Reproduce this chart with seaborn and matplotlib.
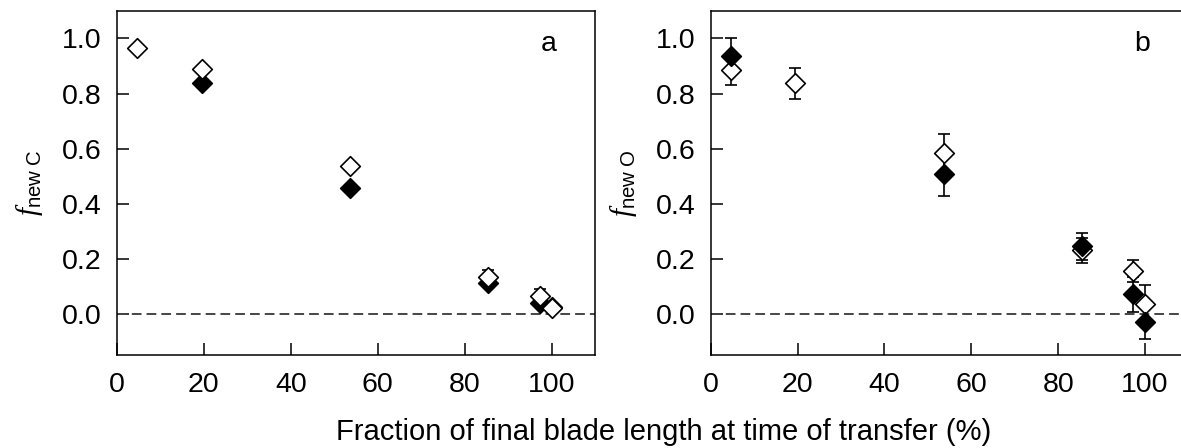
import numpy as np
import pandas as pd
import seaborn as sns
import matplotlib.pyplot as plt

# panel a: f new C
xa_open = [4.7, 19.5, 53.6, 85.4, 97.3, 100.0]
ya_open = [0.967, 0.889, 0.536, 0.135, 0.066, 0.019]
ea_open = [0.01, 0.01, 0.012, 0.025, 0.025, 0.01]
xa_fill = [19.5, 53.6, 85.4, 97.3, 100.0]
ya_fill = [0.84, 0.457, 0.11, 0.04, 0.025]
ea_fill = [0.01, 0.012, 0.01, 0.01, 0.01]

# panel b: f new O
xb_open = [4.7, 19.5, 53.6, 85.4, 97.3, 100.0]
yb_open = [0.885, 0.837, 0.583, 0.23, 0.155, 0.035]
eb_open = [0.053, 0.057, 0.07, 0.045, 0.04, 0.07]
xb_fill = [4.7, 53.6, 85.4, 97.3, 100.0]
yb_fill = [0.935, 0.509, 0.245, 0.07, -0.03]
eb_fill = [0.065, 0.08, 0.05, 0.063, 0.062]

xticks = [0, 20, 40, 60, 80, 100]
yticks = [0.0, 0.2, 0.4, 0.6, 0.8, 1.0]

sns.set_style('ticks')
plt.rcParams['font.family'] = ['Liberation Sans', 'DejaVu Sans']
plt.rcParams['mathtext.fontset'] = 'custom'
plt.rcParams['mathtext.it'] = 'Liberation Serif:italic'
plt.rcParams['mathtext.rm'] = 'Liberation Sans'
plt.rcParams['text.color'] = 'black'
plt.rcParams['axes.labelcolor'] = 'black'

fig = plt.figure(figsize=(11.81, 4.48), dpi=100)
ax_a = fig.add_axes([0.0991, 0.2076, 0.4047, 0.7679])
ax_b = fig.add_axes([0.6017, 0.2076, 0.4047, 0.7679])


def draw_panel(ax, x_open, y_open, e_open, x_fill, y_fill, e_fill, filled_top):
    ax.axhline(0, color='#454545', lw=1.4, ls=(0, (5, 2.6)), zorder=1)
    ax.errorbar(x_open, y_open, yerr=e_open, fmt='none', ecolor='black',
                elinewidth=1.2, capsize=4, capthick=1.2, zorder=2)
    ax.errorbar(x_fill, y_fill, yerr=e_fill, fmt='none', ecolor='black',
                elinewidth=1.2, capsize=4, capthick=1.2, zorder=2)
    z_open, z_fill = (3, 4) if filled_top else (4, 3)
    sns.scatterplot(x=x_open, y=y_open, ax=ax, marker='D', s=100,
                    facecolor='white', edgecolor='black', linewidth=1.2,
                    zorder=z_open, legend=False)
    sns.scatterplot(x=x_fill, y=y_fill, ax=ax, marker='D', s=100,
                    color='black', edgecolor='black', linewidth=1.2,
                    zorder=z_fill, legend=False)
    ax.set_xlim(0, 110)
    ax.set_ylim(-0.15, 1.1)
    ax.set_xticks(xticks)
    ax.set_yticks(yticks)
    ax.set_yticklabels([f'{t:.1f}' for t in yticks])
    ax.tick_params(direction='in', length=8.5, width=1.1, labelsize=20.5,
                   colors='black')
    ax.tick_params(axis='y', pad=11)
    ax.tick_params(axis='x', pad=12)
    for sp in ax.spines.values():
        sp.set_visible(True)
        sp.set_linewidth(1.1)
        sp.set_color('black')
    ax.set_xlabel('')


draw_panel(ax_a, xa_open, ya_open, ea_open, xa_fill, ya_fill, ea_fill, False)
draw_panel(ax_b, xb_open, yb_open, eb_open, xb_fill, yb_fill, eb_fill, True)

ax_a.set_ylabel(r'$\mathit{f}_{\mathrm{new\ C}}$', fontsize=21)
ax_b.set_ylabel(r'$\mathit{f}_{\mathrm{new\ O}}$', fontsize=21)
ax_a.yaxis.set_label_coords(-0.15, 0.5)
ax_b.yaxis.set_label_coords(-0.15, 0.5)

ax_a.text(0.904, 0.904, 'a', transform=ax_a.transAxes, fontsize=20.5,
          ha='center', va='center')
ax_b.text(0.9025, 0.904, 'b', transform=ax_b.transAxes, fontsize=20.5,
          ha='center', va='center')

fig.text(0.5618, 0.018, 'Fraction of final blade length at time of transfer (%)',
         ha='center', va='baseline', fontsize=21)

fig.savefig('out.png', dpi=100)
